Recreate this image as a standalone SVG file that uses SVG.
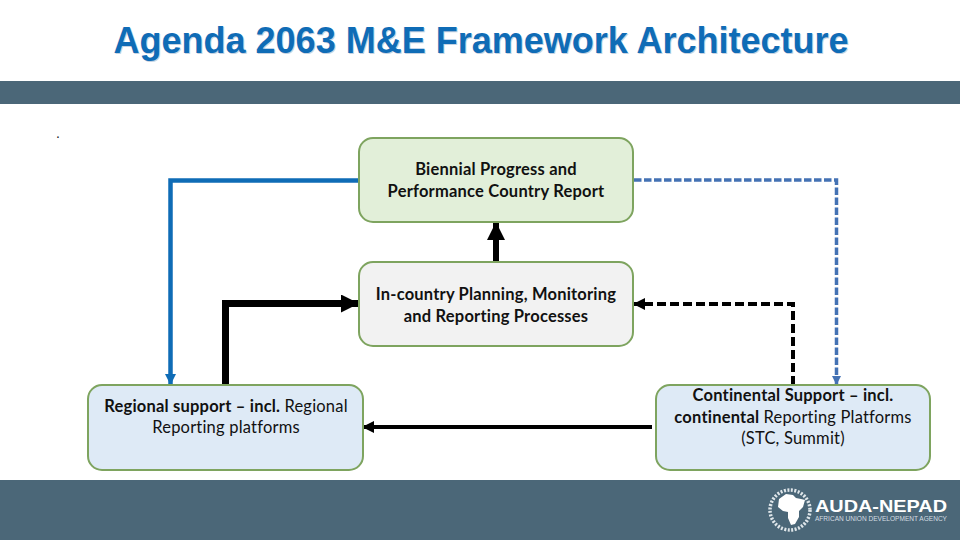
<svg xmlns="http://www.w3.org/2000/svg" width="960" height="540" viewBox="0 0 960 540">
<style>
.band{fill:#4b6778}
.node{stroke:#7ea45f;stroke-width:2}
.t{font-family:Lato,"Liberation Sans",sans-serif;font-size:16.5px;letter-spacing:.2px;fill:#111;text-anchor:middle}
.b{font-weight:700}
.n{font-weight:400}
.title{font-family:"Liberation Sans",Arial,sans-serif;font-size:36px;font-weight:700;text-anchor:middle}
.c{fill:none;stroke-linejoin:miter}
</style>
<defs>
<marker id="ab" markerUnits="userSpaceOnUse" markerWidth="12" markerHeight="12" refX="11" refY="6" orient="auto"><path d="M0 0L12 6L0 12Z" fill="#000"/></marker>
<marker id="abig" markerUnits="userSpaceOnUse" markerWidth="18" markerHeight="18" refX="17" refY="9" orient="auto"><path d="M0 0L18 9L0 18Z" fill="#000"/></marker>
<marker id="ablue" markerUnits="userSpaceOnUse" markerWidth="11" markerHeight="11" refX="10" refY="5.5" orient="auto"><path d="M0 0L11 5.500L0 11Z" fill="#0f6cb6"/></marker>
<marker id="adash" markerUnits="userSpaceOnUse" markerWidth="9" markerHeight="9" refX="8" refY="4.500" orient="auto"><path d="M0 0L9 4.500L0 9Z" fill="#4472b4"/></marker>
</defs>
<rect width="960" height="540" fill="#fff"/>
<rect class="band" x="0" y="81" width="960" height="23"/>
<rect class="band" x="0" y="480" width="960" height="60"/>
<text class="title" x="482" y="53.500" fill="#c6d3e2">Agenda 2063 M&amp;E Framework Architecture</text>
<text class="title" x="481" y="52.500" fill="#0f6cb6">Agenda 2063 M&amp;E Framework Architecture</text>
<text x="56" y="138" font-family="Liberation Sans,sans-serif" font-size="14" fill="#222">.</text>
<g id="connectors">
<path class="c" d="M359 180.500H170.500V384" stroke="#0f6cb6" stroke-width="4.500" marker-end="url(#ablue)"/>
<path class="c" d="M634 180H836.500V384" stroke="#4472b4" stroke-width="3.500" stroke-dasharray="7.500 2.500" marker-end="url(#adash)"/>
<path class="c" d="M496 261V223" stroke="#000" stroke-width="6" marker-end="url(#abig)"/>
<path class="c" d="M225.500 385V303.500H358" stroke="#000" stroke-width="7" marker-end="url(#abig)"/>
<path class="c" d="M793 385V304H634" stroke="#000" stroke-width="4" stroke-dasharray="9 4" marker-end="url(#ab)"/>
<path class="c" d="M652 427H363" stroke="#000" stroke-width="4" marker-end="url(#ab)"/>
</g>
<g id="node-biennial">
<rect class="node" x="359" y="138" width="274" height="84" rx="14" fill="#e2efd9"/>
<text class="t b" x="496" y="175">Biennial Progress and</text>
<text class="t b" x="496" y="197">Performance Country Report</text>
</g>
<g id="node-incountry">
<rect class="node" x="359" y="262" width="274" height="84" rx="14" fill="#f2f2f2"/>
<text class="t b" x="496" y="299.500">In-country Planning, Monitoring</text>
<text class="t b" x="496" y="321.500">and Reporting Processes</text>
</g>
<g id="node-regional">
<rect class="node" x="88" y="385" width="275" height="85" rx="14" fill="#deeaf6"/>
<text class="t" x="226" y="412"><tspan class="b">Regional support – incl. </tspan><tspan class="n">Regional</tspan></text>
<text class="t n" x="226" y="433">Reporting platforms</text>
</g>
<g id="node-continental">
<rect class="node" x="656" y="385" width="274" height="85" rx="14" fill="#deeaf6"/>
<text class="t b" x="793" y="401">Continental Support – incl.</text>
<text class="t" x="793" y="423"><tspan class="b">continental </tspan><tspan class="n">Reporting Platforms</tspan></text>
<text class="t n" x="793" y="444">(STC, Summit)</text>
</g>
<g id="logo">
<circle cx="790" cy="510" r="20" fill="none" stroke="#dfe6ea" stroke-width="3.500" stroke-dasharray="2 1.500"/>
<path d="M779 499L786 494L793 495L796 498L801 499L805 500L803 507L799 511L799 517L795 524L791 525L788 518L788 512L783 511L778 507Z" fill="#fff"/>
<text x="815" y="512" font-family="Liberation Sans,sans-serif" font-size="17" font-weight="700" fill="#fff" textLength="132" lengthAdjust="spacingAndGlyphs">AUDA-NEPAD</text>
<text x="815" y="520.500" font-family="Liberation Sans,sans-serif" font-size="7" fill="#d5dde2" textLength="132" lengthAdjust="spacingAndGlyphs">AFRICAN UNION DEVELOPMENT AGENCY</text>
</g>
</svg>
